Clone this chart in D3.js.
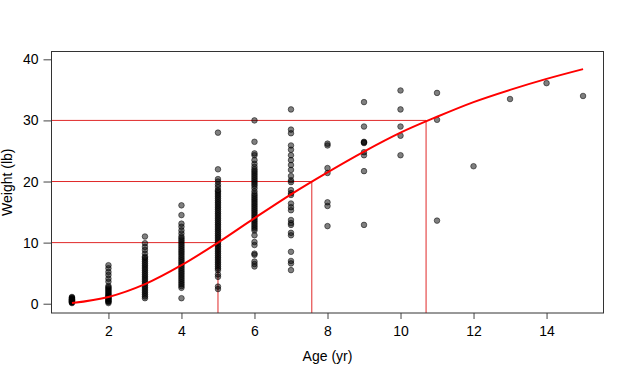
<!DOCTYPE html>
<html><head><meta charset="utf-8">
<script src="https://cdn.jsdelivr.net/npm/d3@7"></script>
<style>
body{margin:0;background:#fff}
svg{display:block}
text{font-family:"Liberation Sans",Arial,sans-serif;fill:#000}
</style>
</head><body>
<svg id="c" width="630" height="378"></svg>
<script>
// ---- data ----
const ages = [1,2,3,4,5,6,7,8,9,10,11,12,13,14,15];
const w1 = [0.1,0.2,0.3,0.4,0.5,0.6,0.7,0.8,0.9,1.0,1.1,0.3,0.5,0.7];
const w2 = [0.1,0.3,0.5,0.7,0.9,1.1,1.3,1.5,1.7,1.9,2.1,2.3,2.5,2.7,2.9,0.4,0.8,1.2,3.6,4.1,4.7,5.2,5.8,6.3];
const w3 = [0.9,1.2,1.5,1.8,2.1,2.4,2.7,3.0,3.3,3.6,3.9,4.2,4.5,4.8,5.1,5.4,5.7,6.0,6.3,6.6,6.9,7.2,7.5,7.7,8.2,8.8,9.3,9.9,11.0];
const w4 = [0.9,2.6,2.9,3.2,3.5,3.8,4.1,4.4,4.7,5.0,5.3,5.6,5.9,6.2,6.5,6.8,7.1,7.4,7.7,8.0,8.3,8.6,8.9,9.2,9.5,9.8,10.1,10.4,10.7,11.0,11.5,12.0,12.6,13.1,14.5,16.1];
const w5 = [2.4,2.8,4.4,4.8,5.5,5.8,6.1,6.4,6.7,7.0,7.3,7.6,7.9,8.2,8.5,8.8,9.1,9.4,9.7,10.0,10.3,10.6,10.9,11.2,11.5,11.8,12.1,12.4,12.7,13.0,13.3,13.6,13.9,14.2,14.5,14.8,15.1,15.4,15.7,16.0,16.3,16.6,16.9,17.2,17.5,17.8,18.1,18.4,18.6,19.1,19.5,20.0,20.4,22.0,28.0];
const w6 = [6.1,6.5,6.9,8.0,8.2,9.6,10.1,11.2,12.0,12.3,12.6,12.9,13.2,13.5,13.8,14.1,14.4,14.7,15.0,15.3,15.6,15.9,16.2,16.5,16.8,17.1,17.4,17.7,18.0,18.4,18.9,19.3,19.6,19.9,20.2,20.5,20.8,21.1,21.4,21.7,22.0,22.4,22.9,23.5,24.3,24.6,26.5,30.0];
const w7 = [31.8,28.5,27.9,25.9,25.2,24.3,23.5,22.7,21.9,20.9,20.2,19.9,18.6,18.1,17.8,16.4,15.8,15.3,13.7,13.2,12.9,11.6,11.2,8.5,7.0,6.6,5.5];
const w8 = [26.2,25.9,22.2,21.4,16.6,16.0,12.7];
const w9 = [33.0,29.0,26.4,26.5,26.3,24.8,24.3,21.7,12.9];
const w10 = [34.9,31.8,29.0,27.5,24.3];
const w11 = [34.5,30.1,13.6];
const w12 = [22.5];
const w13 = [33.5];
const w14 = [36.1];
const w15 = [34.0];
const weightsByAge = [w1,w2,w3,w4,w5,w6,w7,w8,w9,w10,w11,w12,w13,w14,w15];

const curveAges = [1,2,3,4,5,6,7,8,9,10,11,12,13,14,15];
const curveWeights = [0.1,1.1,3.2,6.3,10.0,14.0,17.9,21.5,24.9,28.0,30.6,33.0,35.0,36.8,38.4];

const refWeights = [10,20,30];
const refAges = [5.0,7.57,10.7];

const xTicks = [2,4,6,8,10,12,14];
const yTicks = [0,10,20,30,40];
const xDomain = [0.44,15.56];
const yDomain = [-1.52,41.28];

// ---- drawing ----
const svg = d3.select("#c");
const L = 51.5, R = 603.5, T = 51.5, B = 313;
const x = d3.scaleLinear().domain(xDomain).range([L,R]);
const y = d3.scaleLinear().domain(yDomain).range([B,T]);

// reference lines
const refG = svg.append("g").attr("stroke","#e02828").attr("stroke-width",1).attr("fill","none");
refWeights.forEach((w,i)=>{
  refG.append("line").attr("x1",L).attr("x2",x(refAges[i])).attr("y1",y(w)).attr("y2",y(w));
  refG.append("line").attr("x1",x(refAges[i])).attr("x2",x(refAges[i])).attr("y1",y(w)).attr("y2",B);
});

// points
const pts = [];
ages.forEach((a,i)=>weightsByAge[i].forEach(w=>pts.push([a,w])));
svg.append("g").selectAll("circle").data(pts).join("circle")
  .attr("cx",d=>x(d[0])).attr("cy",d=>y(d[1])).attr("r",2.8)
  .attr("fill","rgba(0,0,0,0.5)").attr("stroke","rgba(0,0,0,0.5)").attr("stroke-width",1);

// fitted curve
const line = d3.line().x((d,i)=>x(curveAges[i])).y(d=>y(d)).curve(d3.curveMonotoneX);
svg.append("path").attr("d",line(curveWeights)).attr("fill","none")
  .attr("stroke","#ff0000").attr("stroke-width",2);

// axes
const xAxis = svg.append("g").attr("transform",`translate(0,${B})`)
  .call(d3.axisBottom(x).tickValues(xTicks).tickSize(6).tickPadding(7).tickFormat(d3.format("d")));
const yAxis = svg.append("g").attr("transform",`translate(${L},0)`)
  .call(d3.axisLeft(y).tickValues(yTicks).tickSize(8).tickPadding(5).tickFormat(d3.format("d")));
[xAxis,yAxis].forEach(g=>{
  g.select(".domain").remove();
  g.selectAll(".tick line").attr("stroke","#444");
  g.selectAll(".tick text").attr("font-size",14).attr("font-family","'Liberation Sans',Arial,sans-serif").attr("fill","#000");
});

// box
svg.append("rect").attr("x",L).attr("y",T).attr("width",R-L).attr("height",B-T)
  .attr("fill","none").attr("stroke","#333").attr("stroke-width",1);

// axis titles
svg.append("text").attr("x",(L+R)/2).attr("y",361).attr("text-anchor","middle")
  .attr("font-size",14).text("Age (yr)");
svg.append("text").attr("transform",`translate(12,${(T+B)/2}) rotate(-90)`)
  .attr("text-anchor","middle").attr("font-size",14).text("Weight (lb)");
</script>
</body></html>
